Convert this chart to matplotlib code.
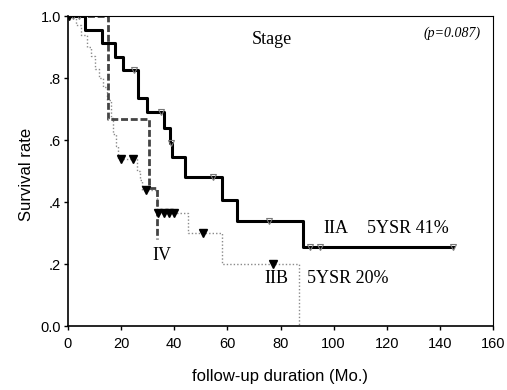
import matplotlib
matplotlib.use('Agg')
import matplotlib.pyplot as plt
import numpy as np

# Kaplan-Meier steps (months, survival)
iia_t = [0, 6.4, 12.8, 17.7, 20.8, 26.3, 29.6, 36.2, 38.4, 39.2, 44, 58, 63.6, 88.5, 145]
iia_s = [1.0, 0.955, 0.913, 0.868, 0.826, 0.735, 0.69, 0.64, 0.59, 0.545, 0.48, 0.406, 0.339, 0.255, 0.255]
iia_cens = [2, 4, 25, 35, 38.8, 54.7, 75.7, 91, 95, 145]

iib_t = [0, 3, 5, 7, 8.5, 10, 11.5, 13, 14.5, 16, 17, 18, 19, 26, 27, 28, 33.5, 45, 58, 87]
iib_s = [1.0, 0.97, 0.94, 0.90, 0.87, 0.83, 0.80, 0.77, 0.73, 0.67, 0.62, 0.58, 0.54,
         0.50, 0.47, 0.44, 0.364, 0.30, 0.20, 0.0]
iib_cens = [0.5, 20, 24.5, 29.4, 34, 36, 38, 40, 51, 77]

iv_t = [0, 15, 30.5, 33.5]
iv_s = [1.0, 0.667, 0.444, 0.28]

yticks = [0.0, 0.2, 0.4, 0.6, 0.8, 1.0]
ytick_labels = ['0.0', '.2', '.4', '.6', '.8', '1.0']
xticks = [0, 20, 40, 60, 80, 100, 120, 140, 160]


def step_at(t, times, surv):
    i = np.searchsorted(times, t, side='right') - 1
    return np.asarray(surv)[i]


fig = plt.figure(figsize=(5.07, 3.9), dpi=100)
ax = fig.add_axes([68 / 507, 1 - 326 / 390, 425 / 507, 310 / 390])

serif = 'Liberation Serif'
sans = 'Liberation Sans'

ax.step(iib_t, iib_s, where='post', color='#8a8a8a', lw=1.0, ls=(0, (1, 1.5)))
ax.step(iv_t, iv_s, where='post', color='#444444', lw=2.0, ls=(0, (2.5, 1)))
ax.step(iia_t, iia_s, where='post', color='black', lw=2.2)

ax.plot(iia_cens, step_at(iia_cens, iia_t, iia_s), ls='none', marker='v',
        ms=4, mfc='none', mec='#777777', mew=0.8)
ax.plot(iib_cens, step_at(iib_cens, iib_t, iib_s), ls='none', marker='v',
        ms=6, color='black')

ax.set_xlim(0, 160)
ax.set_ylim(0, 1.0)
ax.set_xticks(xticks)
ax.set_yticks(yticks)
ax.set_yticklabels(ytick_labels)
ax.tick_params(direction='out', length=3, width=1, labelsize=10.5)
ax.tick_params(axis='x', pad=5)
ax.tick_params(axis='y', pad=2)
for lab in ax.get_xticklabels() + ax.get_yticklabels():
    lab.set_family(sans)
for side in ['left', 'bottom']:
    ax.spines[side].set_linewidth(1.2)
for side in ['top', 'right']:
    ax.spines[side].set_linewidth(0.8)

ax.set_xlabel('follow-up duration (Mo.)', family=sans, fontsize=12)
ax.xaxis.set_label_coords(0.5, -0.14)
ax.set_ylabel('Survival rate', family=sans, fontsize=12)
ax.yaxis.set_label_coords(-0.08, 0.49)

ax.text(76.8, 0.925, 'Stage', family=serif, fontsize=13, ha='center', va='center')
ax.text(144.6, 0.945, '(p=0.087)', family=serif, style='italic', fontsize=10,
        ha='center', va='center')
ax.text(101, 0.313, 'IIA', family=serif, fontsize=13, ha='center', va='center')
ax.text(128, 0.313, '5YSR 41%', family=serif, fontsize=13, ha='center', va='center')
ax.text(35.4, 0.229, 'IV', family=serif, fontsize=13, ha='center', va='center')
ax.text(78.3, 0.152, 'IIB', family=serif, fontsize=13, ha='center', va='center')
ax.text(105.4, 0.152, '5YSR 20%', family=serif, fontsize=13, ha='center', va='center')

fig.savefig('out.png', dpi=100)
